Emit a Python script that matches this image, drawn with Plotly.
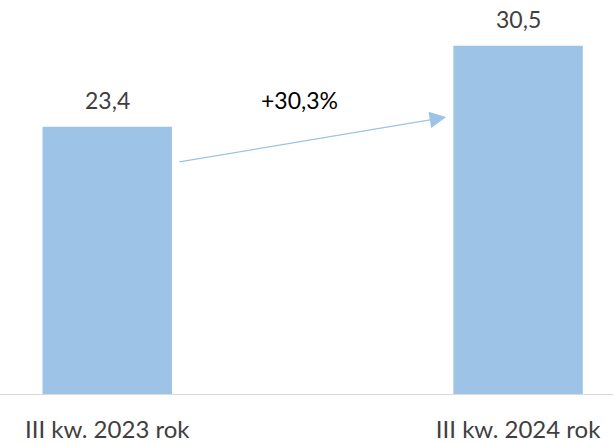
import plotly.graph_objects as go

categories = ["III kw. 2023 rok", "III kw. 2024 rok"]
values = [23.4, 30.5]
value_labels = ["23,4", "30,5"]
change_label = "+30,3%"

BAR = "#9DC3E6"
TXT = "#404040"
FONT = "Lato"

fig = go.Figure()
fig.add_trace(go.Bar(
    x=categories, y=values, width=0.315,
    marker=dict(color=BAR, line=dict(width=0)),
    hoverinfo="skip",
))

for c, v, t in zip(categories, values, value_labels):
    fig.add_annotation(x=c, y=v, text=t, showarrow=False,
                       yanchor="middle", yshift=27,
                       font=dict(family=FONT, size=23, color=TXT))

# growth arrow between bars
fig.add_annotation(x=0.825, y=24.25, ax=0.172, ay=20.3,
                   xref="x", yref="y", axref="x", ayref="y",
                   text="", showarrow=True, arrowhead=2, arrowsize=2.55,
                   arrowwidth=1.3, arrowcolor=BAR, standoff=0, startstandoff=0)
fig.add_annotation(x=0.469, y=25.72, text=change_label, showarrow=False,
                   xref="x", yref="y", yanchor="middle",
                   font=dict(family=FONT, size=23, color="#000000"))

fig.update_layout(
    width=613, height=443,
    margin=dict(l=0, r=0, t=0, b=46, pad=0),
    paper_bgcolor="white", plot_bgcolor="white",
    showlegend=False,
    xaxis=dict(range=[-0.261, 1.231], showgrid=False, zeroline=False,
               showline=True, linecolor="#D9D9D9", linewidth=1.3,
               ticks="", tickfont=dict(family=FONT, size=24, color=TXT),
               ticklabelstandoff=14, fixedrange=True),
    yaxis=dict(range=[0, 34.5], visible=False, fixedrange=True),
)

fig.write_html("out.html", config={"displayModeBar": False},
               post_script="document.body.style.margin='0px';document.body.style.overflow='hidden';")
